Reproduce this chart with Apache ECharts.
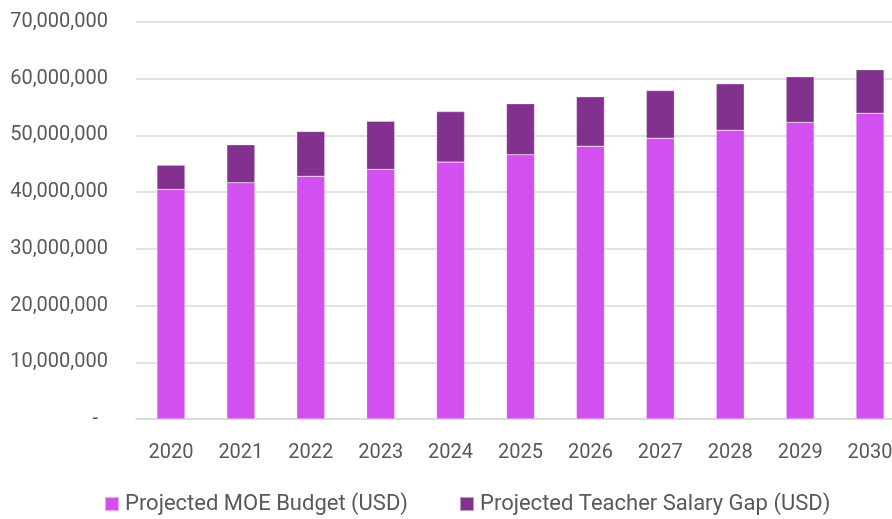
<!DOCTYPE html>
<html>
<head>
<meta charset="utf-8">
<script src="https://cdn.jsdelivr.net/npm/echarts@6/dist/echarts.min.js"></script>
<style>
html,body{margin:0;padding:0;background:#fff;}
#c{width:892px;height:519px;}
</style>
</head>
<body>
<div id="c"></div>
<script>
const categories = ['2020','2021','2022','2023','2024','2025','2026','2027','2028','2029','2030'];
const moeBudget = [40480000, 41660000, 42800000, 44000000, 45300000, 46600000, 48100000, 49500000, 50900000, 52300000, 53900000];
const salaryGap = [4280000, 6700000, 7900000, 8500000, 8900000, 9000000, 8700000, 8400000, 8200000, 8050000, 7700000];
const seriesNames = ['Projected MOE Budget (USD)', 'Projected Teacher Salary Gap (USD)'];

const FONT = "Roboto, 'Liberation Sans', sans-serif";
const chart = echarts.init(document.getElementById('c'), null, {renderer: 'canvas'});
chart.setOption({
  animation: false,
  textStyle: {fontFamily: FONT},
  grid: {left: 136, top: 22, bottom: 100, right: -13, containLabel: false, outerBoundsMode: 'none'},
  legend: {
    data: seriesNames,
    top: 488,
    left: 99,
    itemWidth: 14,
    itemHeight: 14,
    itemGap: 51,
    icon: 'rect',
    textStyle: {fontFamily: FONT, fontSize: 22, color: '#595959', padding: [0, 0, 0, 1]}
  },
  xAxis: {
    type: 'category',
    data: categories,
    axisLine: {lineStyle: {color: '#d9d9d9', width: 1.5}},
    axisTick: {show: false},
    axisLabel: {fontFamily: FONT, fontSize: 20, color: '#595959', margin: 24, interval: 0}
  },
  yAxis: {
    type: 'value',
    min: 0,
    max: 70000000,
    interval: 10000000,
    axisLine: {show: false},
    axisTick: {show: false},
    splitLine: {lineStyle: {color: '#d9d9d9', width: 1.5}},
    axisLabel: {
      fontFamily: FONT, fontSize: 20, color: '#595959', margin: 28,
      formatter: function (v) {
        if (v === 0) return '-  ';
        return v.toLocaleString('en-US');
      }
    }
  },
  series: [
    {
      name: seriesNames[0],
      type: 'bar',
      stack: 'total',
      data: moeBudget,
      barWidth: 28,
      itemStyle: {color: '#D24FF0', borderColor: 'rgba(255,255,255,0.5)', borderWidth: 0.5}
    },
    {
      name: seriesNames[1],
      type: 'bar',
      stack: 'total',
      data: salaryGap,
      barWidth: 28,
      itemStyle: {color: '#82318F', borderColor: 'rgba(255,255,255,0.5)', borderWidth: 0.5}
    }
  ]
});
</script>
</body>
</html>
